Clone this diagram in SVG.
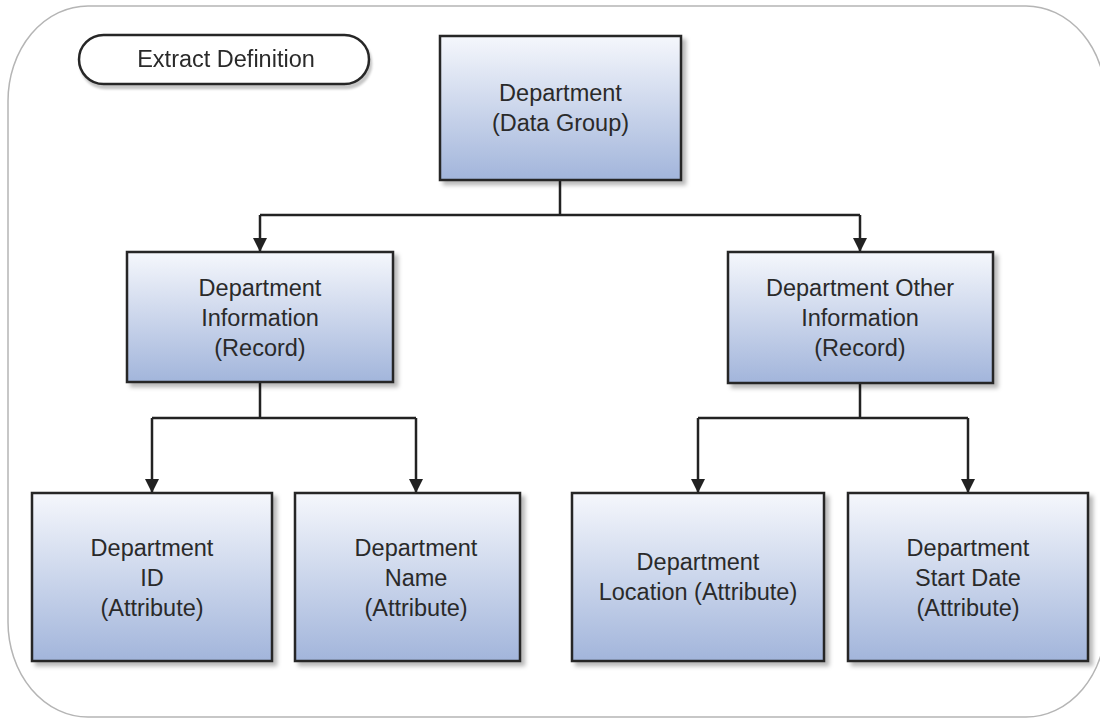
<svg xmlns="http://www.w3.org/2000/svg" width="1100" height="719" viewBox="0 0 1100 719">
<defs>
<linearGradient id="boxGrad" x1="0" y1="0" x2="0" y2="1">
<stop offset="0" stop-color="#f5f7fc"/>
<stop offset="1" stop-color="#a2b5db"/>
</linearGradient>
<filter id="shadow" x="-10%" y="-10%" width="130%" height="130%">
<feDropShadow dx="4" dy="4" stdDeviation="2" flood-color="#000" flood-opacity="0.28"/>
</filter>
<filter id="pillShadow" x="-10%" y="-20%" width="130%" height="160%">
<feDropShadow dx="2" dy="4" stdDeviation="0.8" flood-color="#000" flood-opacity="0.22"/>
</filter>
<marker id="arrow" viewBox="0 0 14 14" refX="14" refY="7" markerWidth="14" markerHeight="14" markerUnits="userSpaceOnUse" orient="auto">
<path d="M0,0 L14,7 L0,14 Z" fill="#222"/>
</marker>
<style>
.box{fill:url(#boxGrad);stroke:#262626;stroke-width:2.5;filter:url(#shadow);}
.lbl{font-family:"Liberation Sans",Arial,sans-serif;font-size:23.5px;fill:#2a2a2a;text-anchor:middle;}
.conn{fill:none;stroke:#222;stroke-width:2.5;}
</style>
</defs>
<rect id="container" x="8" y="6" width="1098" height="711" rx="80" ry="95" fill="#fff" stroke="#b5b5b5" stroke-width="1.5"/>
<g id="extract-definition" filter="url(#pillShadow)">
<rect x="79" y="35" width="290" height="49" rx="24.5" ry="24.5" fill="#fff" stroke="#262626" stroke-width="2.5"/>
<text class="lbl" x="226" y="67">Extract Definition</text>
</g>
<g id="connectors">
<path class="conn" d="M560,180 V215 M260,215 H860"/>
<path class="conn" d="M260,215 V252" marker-end="url(#arrow)"/>
<path class="conn" d="M860,215 V252" marker-end="url(#arrow)"/>
<path class="conn" d="M260,382 V418 M152,418 H416"/>
<path class="conn" d="M152,418 V493" marker-end="url(#arrow)"/>
<path class="conn" d="M416,418 V493" marker-end="url(#arrow)"/>
<path class="conn" d="M860,383 V418 M698,418 H968"/>
<path class="conn" d="M698,418 V493" marker-end="url(#arrow)"/>
<path class="conn" d="M968,418 V493" marker-end="url(#arrow)"/>
</g>
<g id="department">
<rect class="box" x="440" y="36" width="241" height="144"/>
<text class="lbl" x="560.5" y="101">Department</text>
<text class="lbl" x="560.5" y="131">(Data Group)</text>
</g>
<g id="department-information">
<rect class="box" x="127" y="252" width="266" height="130"/>
<text class="lbl" x="260" y="296">Department</text>
<text class="lbl" x="260" y="326">Information</text>
<text class="lbl" x="260" y="356">(Record)</text>
</g>
<g id="department-other-information">
<rect class="box" x="728" y="252" width="265" height="131"/>
<text class="lbl" x="860" y="296">Department Other</text>
<text class="lbl" x="860" y="326">Information</text>
<text class="lbl" x="860" y="356">(Record)</text>
</g>
<g id="department-id">
<rect class="box" x="32" y="493" width="240" height="168"/>
<text class="lbl" x="152" y="556">Department</text>
<text class="lbl" x="152" y="586">ID</text>
<text class="lbl" x="152" y="616">(Attribute)</text>
</g>
<g id="department-name">
<rect class="box" x="295" y="493" width="225" height="168"/>
<text class="lbl" x="416" y="556">Department</text>
<text class="lbl" x="416" y="586">Name</text>
<text class="lbl" x="416" y="616">(Attribute)</text>
</g>
<g id="department-location">
<rect class="box" x="572" y="493" width="252" height="168"/>
<text class="lbl" x="698" y="570">Department</text>
<text class="lbl" x="698" y="600">Location (Attribute)</text>
</g>
<g id="department-start-date">
<rect class="box" x="848" y="493" width="240" height="168"/>
<text class="lbl" x="968" y="556">Department</text>
<text class="lbl" x="968" y="586">Start Date</text>
<text class="lbl" x="968" y="616">(Attribute)</text>
</g>
</svg>
